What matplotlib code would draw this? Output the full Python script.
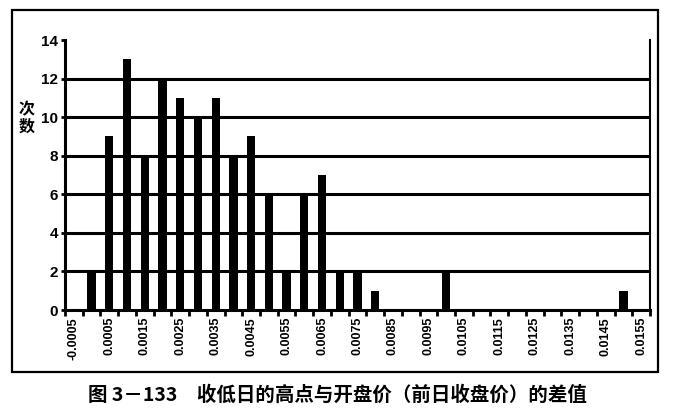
import matplotlib
matplotlib.use('Agg')
import matplotlib.pyplot as plt
from matplotlib.patches import Rectangle

plt.rcParams['font.family'] = ['Liberation Sans', 'Noto Sans CJK SC', 'DejaVu Sans']

# bins of the difference (high minus open), one bar per bin
bins = ['-0.0005', '0.0000', '0.0005', '0.0010', '0.0015', '0.0020', '0.0025',
        '0.0030', '0.0035', '0.0040', '0.0045', '0.0050', '0.0055', '0.0060',
        '0.0065', '0.0070', '0.0075', '0.0080', '0.0085', '0.0090', '0.0095',
        '0.0100', '0.0105', '0.0110', '0.0115', '0.0120', '0.0125', '0.0130',
        '0.0135', '0.0140', '0.0145', '0.0150', '0.0155']
counts = [0, 2, 9, 13, 8, 12, 11, 10, 11, 8, 9, 6, 2, 6, 7, 2, 2, 1, 0, 0, 0,
          2, 0, 0, 0, 0, 0, 0, 0, 0, 0, 1, 0]
y_ticks = [0, 2, 4, 6, 8, 10, 12, 14]
y_label = '次\n数'
caption = '图 3－133　收低日的高点与开盘价（前日收盘价）的差值'

W, H = 673, 409
fig = plt.figure(figsize=(W / 100, H / 100), dpi=100)
ax = fig.add_axes([65 / W, 1 - 310 / H, (650 - 65) / W, (310 - 40) / H])

x = list(range(len(bins)))

for y in y_ticks[1:-1]:
    ax.axhline(y, color='black', lw=2.2, zorder=1)

ax.bar(x, counts, width=0.47, color='black', linewidth=0, zorder=2)

ax.set_xlim(-0.5, len(bins) - 0.5)
ax.set_ylim(0, 14)

ax.set_xticks([i - 0.5 for i in range(len(bins) + 1)])
ax.set_xticklabels([])
ax.set_xticks(x[::2], minor=True)
ax.set_xticklabels(bins[::2], minor=True, rotation=90, fontsize=9,
                   fontweight='bold')
ax.tick_params(axis='x', which='major', direction='out', length=4, width=2)
ax.tick_params(axis='x', which='minor', length=0, pad=5)

ax.set_yticks(y_ticks)
ax.set_yticklabels([str(v) for v in y_ticks], fontsize=11, fontweight='bold')
ax.tick_params(axis='y', direction='out', length=3, width=2, pad=2)

ax.spines['top'].set_visible(False)
ax.spines['left'].set_linewidth(2.2)
ax.spines['bottom'].set_linewidth(2.2)
ax.spines['right'].set_linewidth(1.5)

fig.text(27 / W, 1 - 118 / H, y_label, ha='center', va='center',
         fontsize=11.5, fontweight='bold', linespacing=1.05,
         family=['Noto Sans CJK SC', 'DejaVu Sans'])

fig.patches.append(Rectangle((12 / W, 1 - 372 / H), (658 - 12) / W,
                             (372 - 10) / H, transform=fig.transFigure,
                             fill=False, lw=1.6, edgecolor='black'))

fig.text(337 / W, 1 - 395 / H, caption, ha='center', va='center',
         fontsize=14, fontweight='bold',
         family=['Noto Sans CJK SC', 'DejaVu Sans'])

fig.savefig('out.png', dpi=100)
